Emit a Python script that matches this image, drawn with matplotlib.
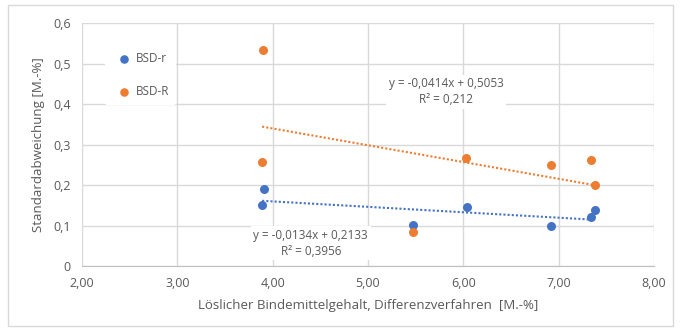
import matplotlib.pyplot as plt
import matplotlib.patches as mpatches

plt.rcParams['font.family'] = ['Open Sans', 'DejaVu Sans']

# BSD-r (blue) and BSD-R (orange)
x_r = [3.91, 3.89, 5.47, 6.04, 6.92, 7.34, 7.38]
y_r = [0.190, 0.152, 0.101, 0.147, 0.099, 0.121, 0.138]
x_R = [3.90, 3.89, 5.47, 6.03, 6.92, 7.34, 7.38]
y_R = [0.533, 0.257, 0.084, 0.266, 0.249, 0.261, 0.200]

# linear trend coefficients as printed in the chart
fit_r = (-0.0134, 0.2133, 0.3956)
fit_R = (-0.0414, 0.5053, 0.212)

x_ticks = [2, 3, 4, 5, 6, 7, 8]
x_labels = ['2,00', '3,00', '4,00', '5,00', '6,00', '7,00', '8,00']
y_ticks = [0, 0.1, 0.2, 0.3, 0.4, 0.5, 0.6]
y_labels = ['0', '0,1', '0,2', '0,3', '0,4', '0,5', '0,6']

blue = '#4472C4'
orange = '#ED7D31'
grey = '#595959'

fig = plt.figure(figsize=(6.83, 3.31), dpi=100)
fig.patches.append(mpatches.Rectangle((0.012, 0.015), 0.974, 0.97, transform=fig.transFigure,
                                      fill=False, edgecolor='#d9d9d9', linewidth=1))
ax = fig.add_axes([0.120, 0.196, 0.8375, 0.7345])

ax.scatter(x_r, y_r, s=42, color=blue, label='BSD-r', zorder=3, linewidths=0)
ax.scatter(x_R, y_R, s=42, color=orange, label='BSD-R', zorder=3, linewidths=0)

for xs, (m, b, r2), c in [(x_r, fit_r, blue), (x_R, fit_R, orange)]:
    x0, x1 = min(xs), max(xs)
    ax.plot([x0, x1], [m * x0 + b, m * x1 + b], color=c, linestyle=(0, (1, 1)),
            linewidth=1.5, zorder=2)

def eq_text(m, b, r2):
    s = lambda v: f'{v}'.replace('.', ',')
    return f'y = {s(m)}x + {s(b)}\nR² = {s(r2)}'

box = dict(facecolor='white', edgecolor='none', pad=2)
ax.text(5.82, 0.43, eq_text(*fit_R), ha='center', va='center', fontsize=8.5,
        color=grey, linespacing=1.3, bbox=box, zorder=4)
ax.text(4.4, 0.057, eq_text(*fit_r), ha='center', va='center', fontsize=8.5,
        color=grey, linespacing=1.3, bbox=box, zorder=4)

ax.set_xlim(2, 8)
ax.set_ylim(0, 0.6)
ax.set_xticks(x_ticks)
ax.set_xticklabels(x_labels)
ax.set_yticks(y_ticks)
ax.set_yticklabels(y_labels)
ax.tick_params(length=0, colors=grey, labelsize=9, pad=8)
ax.grid(True, color='#d9d9d9', linewidth=1)
ax.set_axisbelow(True)
for side in ['top', 'right', 'left']:
    ax.spines[side].set_visible(False)
ax.spines['bottom'].set_color('#bfbfbf')

ax.set_xlabel('Löslicher Bindemittelgehalt, Differenzverfahren  [M.-%]', color=grey,
              fontsize=9.5, labelpad=6)
ax.set_ylabel('Standardabweichung [M.-%]', color=grey, fontsize=9.5, labelpad=6)

leg = ax.legend(loc='upper left', bbox_to_anchor=(0.03, 0.935), frameon=True, fontsize=8.5,
                labelspacing=1.7, handletextpad=0.0, markerscale=0.95, borderpad=0.6)
leg.get_frame().set_edgecolor('none')
leg.get_frame().set_facecolor('white')
leg.get_frame().set_alpha(1)
for t in leg.get_texts():
    t.set_color(grey)

fig.savefig('out.png', dpi=100)
